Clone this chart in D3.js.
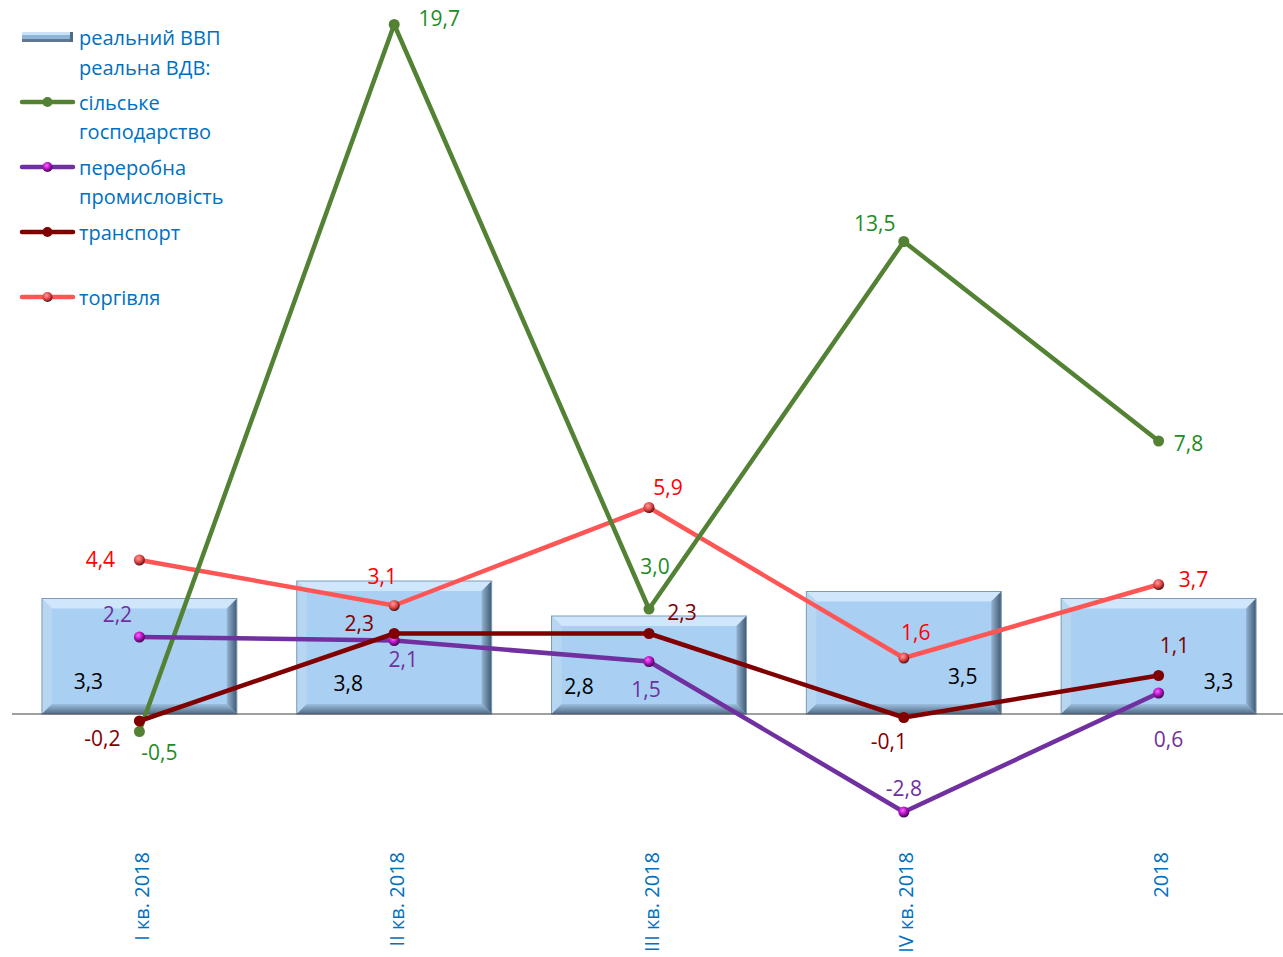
<!DOCTYPE html>
<html>
<head>
<meta charset="utf-8">
<script src="https://cdn.jsdelivr.net/npm/d3@7"></script>
<style>
  body { margin: 0; background: #fff; }
  svg text { font-family: "Open Sans", "Noto Sans", sans-serif; }
</style>
</head>
<body>
<div id="container"></div>
<script>
// data
const categories = ["I кв. 2018", "II кв. 2018", "III кв. 2018", "IV кв. 2018", "2018"];
const gdpValues = [3.3, 3.8, 2.8, 3.5, 3.3];
const agriValues = [-0.5, 19.7, 3.0, 13.5, 7.8];
const manufValues = [2.2, 2.1, 1.5, -2.8, 0.6];
const transportValues = [-0.2, 2.3, 2.3, -0.1, 1.1];
const tradeValues = [4.4, 3.1, 5.9, 1.6, 3.7];

// label offsets (px from the point / from the bar base), styling only
const gdpLabelOffsets = [[-51, -33], [-46, -31], [-70, -28], [59, -38], [60, -33]];
const agriLabelOffsets = [[20, 20], [45, -7], [6, -43], [-29, -19], [30, 2]];
const manufLabelOffsets = [[-22, -23], [9, 18], [-3, 27], [0, -24], [10, 46]];
const transportLabelOffsets = [[-37, 17], [-35, -11], [33, -22], [-15, 23], [16, -31]];
const tradeLabelOffsets = [[-39, -1], [-12, -30], [19, -21], [12, -26], [35, -6]];

const width = 1283;
const height = 957;
const fmt = (v) => v.toFixed(1).replace(".", ",");

const svg = d3.select("#container")
    .append("svg")
    .attr("width", width)
    .attr("height", height);

const x = d3.scalePoint()
    .domain(categories)
    .range([12, 1286])
    .padding(0.5);
const step = x.step();
const barW = step * 0.765;

const y = d3.scaleLinear()
    .domain([-5, 20])
    .range([889, 14]);

const defs = svg.append("defs");
function sphere(id, light, mid, dark) {
    const g = defs.append("radialGradient")
        .attr("id", id)
        .attr("cx", "40%").attr("cy", "35%").attr("r", "65%");
    g.append("stop").attr("offset", "0%").attr("stop-color", light);
    g.append("stop").attr("offset", "55%").attr("stop-color", mid);
    g.append("stop").attr("offset", "100%").attr("stop-color", dark);
}
sphere("sphPurple", "#ff66ff", "#b010c0", "#3a0a4a");
sphere("sphRed", "#ff9a9a", "#e04848", "#5a1010");

const gBottom = defs.append("linearGradient").attr("id", "bevBottom")
    .attr("x1", 0).attr("y1", 0).attr("x2", 0).attr("y2", 1);
gBottom.append("stop").attr("offset", "0%").attr("stop-color", "#9dbfdf");
gBottom.append("stop").attr("offset", "100%").attr("stop-color", "#4f6b86");
const gRight = defs.append("linearGradient").attr("id", "bevRight")
    .attr("x1", 0).attr("y1", 0).attr("x2", 1).attr("y2", 0);
gRight.append("stop").attr("offset", "0%").attr("stop-color", "#93b3d2");
gRight.append("stop").attr("offset", "100%").attr("stop-color", "#3f5a74");

// bars with bevel
const bev = 10;
const barG = svg.append("g");
function drawBar(g, x0, y0, w, h) {
    const x1 = x0 + w, y1 = y0 + h;
    g.append("rect").attr("x", x0).attr("y", y0).attr("width", w).attr("height", h)
        .attr("fill", "#a9cff2");
    const poly = (pts, fill) => g.append("polygon")
        .attr("points", pts.map((p) => p.join(",")).join(" "))
        .attr("fill", fill);
    poly([[x0, y0], [x1, y0], [x1 - bev, y0 + bev], [x0 + bev, y0 + bev]], "#cfe6fb");
    poly([[x0, y0], [x0 + bev, y0 + bev], [x0 + bev, y1 - bev], [x0, y1]], "#b7d6f2");
    poly([[x1, y0], [x1, y1], [x1 - bev, y1 - bev], [x1 - bev, y0 + bev]], "url(#bevRight)");
    poly([[x0, y1], [x0 + bev, y1 - bev], [x1 - bev, y1 - bev], [x1, y1]], "url(#bevBottom)");
    g.append("rect").attr("x", x0).attr("y", y0).attr("width", w).attr("height", h)
        .attr("fill", "none").attr("stroke", "#7f9bb6").attr("stroke-width", 1);
}
gdpValues.forEach((v, i) => {
    const cx = x(categories[i]);
    const g = barG.append("g");
    drawBar(g, cx - barW / 2, y(v), barW, y(0) - y(v));
});

// zero axis line
svg.append("line")
    .attr("x1", 12).attr("x2", width)
    .attr("y1", y(0)).attr("y2", y(0))
    .attr("stroke", "#404040").attr("stroke-width", 1);

// bar labels
svg.append("g").selectAll("text")
    .data(gdpValues)
    .join("text")
    .attr("x", (d, i) => x(categories[i]) + gdpLabelOffsets[i][0])
    .attr("y", (d, i) => y(0) + gdpLabelOffsets[i][1])
    .attr("text-anchor", "middle")
    .attr("dominant-baseline", "central")
    .attr("font-size", 21)
    .attr("fill", "#000")
    .text((d) => fmt(d));

const series = [
    { name: "trade", values: tradeValues, line: "#ff5555", text: "#ff0000", marker: "url(#sphRed)", offsets: tradeLabelOffsets },
    { name: "agri", values: agriValues, line: "#548235", text: "#1e8c1e", marker: "#548235", offsets: agriLabelOffsets },
    { name: "manuf", values: manufValues, line: "#7030a0", text: "#7030a0", marker: "url(#sphPurple)", offsets: manufLabelOffsets },
    { name: "transport", values: transportValues, line: "#800000", text: "#800000", marker: "#800000", offsets: transportLabelOffsets },
];

const line = d3.line()
    .x((d, i) => x(categories[i]))
    .y((d) => y(d));

series.forEach((s) => {
    const g = svg.append("g");
    g.append("path")
        .datum(s.values)
        .attr("d", line)
        .attr("fill", "none")
        .attr("stroke", s.line)
        .attr("stroke-width", 4.5)
        .attr("stroke-linejoin", "round");
    g.selectAll("circle")
        .data(s.values)
        .join("circle")
        .attr("cx", (d, i) => x(categories[i]))
        .attr("cy", (d) => y(d))
        .attr("r", 5.5)
        .attr("fill", s.marker);
});

series.forEach((s) => {
    svg.append("g").selectAll("text")
        .data(s.values)
        .join("text")
        .attr("x", (d, i) => x(categories[i]) + s.offsets[i][0])
        .attr("y", (d, i) => y(d) + s.offsets[i][1])
        .attr("text-anchor", "middle")
        .attr("dominant-baseline", "central")
        .attr("font-size", 21)
        .attr("fill", s.text)
        .text((d) => fmt(d));
});

// category labels (rotated, aligned at the top)
svg.append("g").selectAll("text")
    .data(categories)
    .join("text")
    .attr("transform", (d) => `translate(${x(d) + 2},852) rotate(-90)`)
    .attr("text-anchor", "end")
    .attr("dominant-baseline", "central")
    .attr("font-size", 20)
    .attr("fill", "#0070c0")
    .text((d) => d);

// legend
const legend = svg.append("g");
const lx0 = 22, lx1 = 73, tx = 79;
const legendG = legend.append("g");
legendG.append("rect").attr("x", lx0).attr("y", 32).attr("width", lx1 - lx0).attr("height", 10).attr("fill", "#8fb4d6");
legendG.append("rect").attr("x", lx0).attr("y", 32).attr("width", lx1 - lx0).attr("height", 3).attr("fill", "#c9e2f8");
legendG.append("rect").attr("x", lx0).attr("y", 39).attr("width", lx1 - lx0).attr("height", 3).attr("fill", "#5f7890");
legendG.append("rect").attr("x", lx1 - 3).attr("y", 32).attr("width", 3).attr("height", 10).attr("fill", "#4f6b86");

const legendItems = [
    { y: 102, color: "#548235", marker: "#548235", lines: ["сільське", "господарство"] },
    { y: 167, color: "#7030a0", marker: "url(#sphPurple)", lines: ["переробна", "промисловість"] },
    { y: 232, color: "#800000", marker: "#800000", lines: ["транспорт"] },
    { y: 297, color: "#ff5555", marker: "url(#sphRed)", lines: ["торгівля"] },
];
const legendText = (yy, t) => legend.append("text")
    .attr("x", tx).attr("y", yy)
    .attr("dominant-baseline", "central")
    .attr("font-size", 20)
    .attr("fill", "#0070c0")
    .text(t);
legendText(37, "реальний ВВП");
legendText(67, "реальна ВДВ:");
legendItems.forEach((it) => {
    legend.append("line")
        .attr("x1", lx0).attr("x2", lx1)
        .attr("y1", it.y).attr("y2", it.y)
        .attr("stroke", it.color).attr("stroke-width", 4.5)
        .attr("stroke-linecap", "round");
    legend.append("circle")
        .attr("cx", (lx0 + lx1) / 2).attr("cy", it.y).attr("r", 5)
        .attr("fill", it.marker);
    it.lines.forEach((t, k) => legendText(it.y + k * 29, t));
});
</script>
</body>
</html>
